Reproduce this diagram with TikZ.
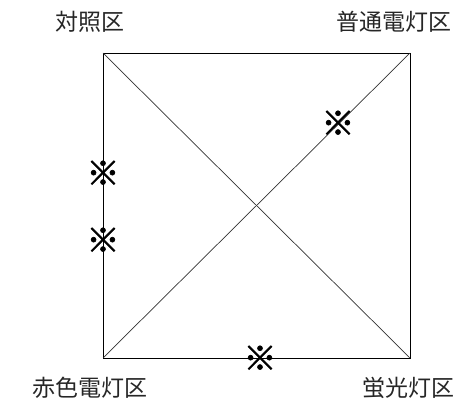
\documentclass[tikz,border=0pt]{standalone}
\usepackage{fontspec}
\newfontfamily\jp{Noto Sans CJK JP}
\newfontfamily\jpk[FakeBold=2]{Noto Sans CJK JP}
\begin{document}
\begin{tikzpicture}[x=1pt,y=-1pt,
  lbl/.style={font=\jp\fontsize{23}{23}\selectfont, inner sep=0pt, text=black!85},
  kome/.style={font=\jpk\fontsize{33}{33}\selectfont, inner sep=0pt},
  edge/.style={line width=0.9pt, black},
  diag/.style={line width=0.7pt, black!80}]
\useasboundingbox (0,0) rectangle (467,404);
\coordinate (tl) at (103,53);
\coordinate (tr) at (410,53);
\coordinate (bl) at (103,358);
\coordinate (br) at (410,358);
\draw[edge] (tl) -- (tr) -- (br) -- (bl) -- cycle;
\draw[diag] (tl) -- (br);
\draw[diag] (bl) -- (tr);
\node[lbl] (a) at (90,22) {対照区};
\node[lbl] (b) at (394,22) {普通電灯区};
\node[lbl] (c) at (90,388) {赤色電灯区};
\node[lbl] (d) at (408,388) {蛍光灯区};
\node[kome] (k1) at (103,173) {※};
\node[kome] (k2) at (103,240) {※};
\node[kome] (k3) at (338,123) {※};
\node[kome] (k4) at (260,358) {※};
\end{tikzpicture}
\end{document}
